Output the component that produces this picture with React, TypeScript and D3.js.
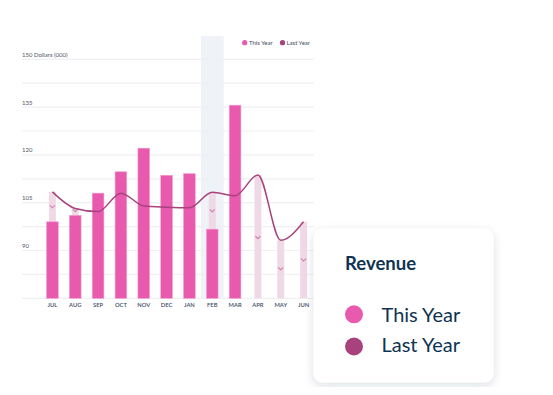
import React from "react";
import * as d3 from "d3";

const WIDTH = 553;
const HEIGHT = 395;

const months = ["JUL", "AUG", "SEP", "OCT", "NOV", "DEC", "JAN", "FEB", "MAR", "APR", "MAY", "JUN"];
const thisYear: (number | null)[] = [99, 101, 108, 114.7, 122.1, 113.6, 114.1, 96.7, 135.6, null, null, null];
const lastYear = [108.4, 103.2, 102.2, 108, 104, 103.6, 103.4, 108.3, 107.2, 113.7, 93.2, 99];
// small chevron marks inside the faded bars
const markers: (number | null)[] = [103.7, 102.5, null, null, null, null, null, 102.4, null, 94, 84.2, 87];
const yTicks = [75, 82.5, 90, 97.5, 105, 112.5, 120, 127.5, 135, 142.5, 150];
const yLabels = [90, 105, 120, 135, 150];
const highlight = "FEB";

const PINK = "#e85aad";
const PLUM = "#a8427c";
const FADED = "#f0d9e6";
const NAVY = "#0f3351";

const App = () => {
  const x = d3.scaleBand<string>().domain(months).range([41, 315]).paddingInner(0.49).paddingOuter(0.245);
  const xStep = d3.scaleBand<string>().domain(months).range([41, 315]);
  const y = d3.scaleLinear().domain([75, 150]).range([298.3, 59.3]);

  const cx = (m: string) => (x(m) ?? 0) + x.bandwidth() / 2;
  const fadedW = 7;

  const line = d3
    .line<number>()
    .x((_, i) => cx(months[i]))
    .y((d) => y(d))
    .curve(d3.curveMonotoneX);

  return (
    <div style={{ margin: -8, width: WIDTH, height: HEIGHT, background: "#fff" }}>
      <svg width={WIDTH} height={HEIGHT} style={{ display: "block", fontFamily: "Lato, 'Open Sans', sans-serif" }}>
        <defs>
          <filter id="shadow" x="-20%" y="-20%" width="140%" height="150%">
            <feDropShadow dx="0" dy="3" stdDeviation="5" floodColor="#1a2a4a" floodOpacity="0.14" />
          </filter>
        </defs>

        {/* highlighted month */}
        <rect
          x={xStep(highlight)}
          y={36}
          width={xStep.bandwidth()}
          height={y(75) - 36}
          fill="#eff3f8"
        />

        {/* grid */}
        {yTicks.map((t) => (
          <line key={t} x1={22} x2={314} y1={y(t)} y2={y(t)} stroke="#eef0f4" strokeWidth={1.2} />
        ))}
        {yLabels.map((t) => (
          <text key={t} x={22} y={y(t) - 2.5} fontSize={6} fill="#4b5563">
            {t === 150 ? "150 Dollars (000)" : t}
          </text>
        ))}

        {/* last year faded bars */}
        {lastYear.map((v, i) => (
          <rect
            key={months[i]}
            x={cx(months[i]) - fadedW / 2}
            y={y(v)}
            width={fadedW}
            height={y(75) - y(v)}
            fill={FADED}
          />
        ))}
        {markers.map((v, i) =>
          v == null ? null : (
            <path
              key={months[i]}
              d={`M${cx(months[i]) - 2.5},${y(v) - 1.5} L${cx(months[i])},${y(v) + 1} L${cx(months[i]) + 2.5},${y(v) - 1.5}`}
              fill="none"
              stroke="#cf82ad"
              strokeWidth={1.1}
            />
          )
        )}

        {/* this year bars */}
        {thisYear.map((v, i) =>
          v == null ? null : (
            <rect
              key={months[i]}
              x={x(months[i])}
              y={y(v)}
              width={x.bandwidth()}
              height={y(75) - y(v)}
              fill={PINK}
              stroke="#f29ccb"
              strokeWidth={0.6}
            />
          )
        )}

        {/* last year line */}
        <path d={line(lastYear) ?? ""} fill="none" stroke={PLUM} strokeWidth={1.5} />

        {/* x labels */}
        {months.map((m) => (
          <text key={m} x={cx(m)} y={307} fontSize={5.8} fontWeight={600} fill="#3d4a63" textAnchor="middle">
            {m}
          </text>
        ))}

        {/* small legend */}
        <circle cx={244.7} cy={42.7} r={2.6} fill={PINK} />
        <text x={249} y={44.8} fontSize={6} fill="#3d4a63">This Year</text>
        <circle cx={282.5} cy={42.7} r={2.6} fill={PLUM} />
        <text x={286.5} y={44.8} fontSize={6} fill="#3d4a63">Last Year</text>

        {/* revenue card */}
        <rect x={313.5} y={228.5} width={180} height={154} rx={9} fill="#fff" filter="url(#shadow)" />
        <text x={345} y={269.5} fontSize={18.5} fontWeight={700} fill={NAVY}>Revenue</text>
        <circle cx={354} cy={314.3} r={9} fill={PINK} />
        <text x={381.5} y={321.5} fontSize={20} fill={NAVY}>This Year</text>
        <circle cx={354} cy={346.5} r={9} fill={PLUM} />
        <text x={381.5} y={352} fontSize={20} fill={NAVY}>Last Year</text>
      </svg>
    </div>
  );
};

export default App;
